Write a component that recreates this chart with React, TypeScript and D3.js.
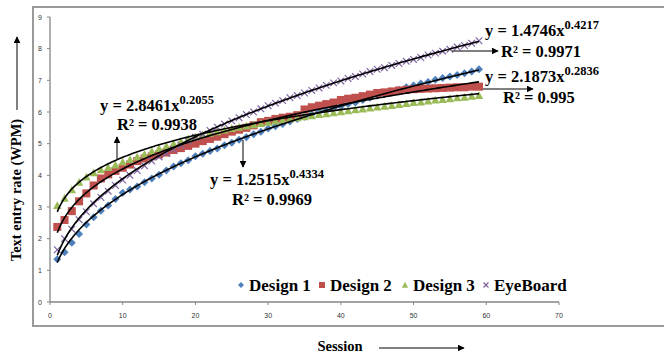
import * as d3 from 'd3';

const sessions = d3.range(1, 60);

const design1 = [
  1.35, 1.57, 1.87, 2.15, 2.45, 2.68, 2.88, 3.05, 3.25, 3.45, 3.55, 3.65, 3.78, 3.9, 4.02, 4.15, 4.28, 4.38, 4.48, 4.6,
  4.68, 4.77, 4.85, 4.95, 5.03, 5.12, 5.2, 5.3, 5.38, 5.48, 5.55, 5.62, 5.7, 5.78, 5.85, 5.93, 6.0, 6.05, 6.12, 6.18,
  6.25, 6.3, 6.38, 6.45, 6.52, 6.58, 6.64, 6.7, 6.78, 6.84, 6.9, 6.95, 7.02, 7.07, 7.12, 7.17, 7.22, 7.28, 7.35,
];
const design2 = [
  2.37, 2.59, 2.87, 3.18, 3.43, 3.68, 3.9, 4.03, 4.14, 4.24, 4.34, 4.45, 4.53, 4.6, 4.66, 4.72, 4.8, 4.86, 4.93, 5.0,
  5.08, 5.15, 5.22, 5.3, 5.38, 5.44, 5.5, 5.58, 5.68, 5.72, 5.78, 5.82, 5.85, 5.9, 6.08, 6.15, 6.2, 6.25, 6.3, 6.38,
  6.42, 6.45, 6.5, 6.55, 6.6, 6.62, 6.65, 6.68, 6.7, 6.72, 6.73, 6.74, 6.75, 6.76, 6.77, 6.78, 6.78, 6.8, 6.8,
];
const design3 = [
  3.05, 3.28, 3.55, 3.78, 3.95, 4.08, 4.18, 4.25, 4.33, 4.42, 4.5, 4.58, 4.67, 4.76, 4.85, 4.92, 5.0, 5.08, 5.15, 5.22,
  5.28, 5.33, 5.38, 5.43, 5.48, 5.52, 5.56, 5.6, 5.64, 5.68, 5.72, 5.75, 5.78, 5.82, 5.85, 5.88, 5.92, 5.95, 5.98, 6.01,
  6.04, 6.07, 6.1, 6.13, 6.16, 6.18, 6.21, 6.24, 6.27, 6.3, 6.32, 6.35, 6.38, 6.4, 6.42, 6.45, 6.47, 6.5, 6.52,
];
const eyeBoard = [
  1.65, 2.0, 2.3, 2.6, 2.85, 3.1, 3.3, 3.5, 3.68, 3.85, 4.0, 4.15, 4.3, 4.45, 4.58, 4.7, 4.82, 4.95, 5.08, 5.2,
  5.3, 5.42, 5.52, 5.62, 5.72, 5.82, 5.92, 6.0, 6.1, 6.2, 6.28, 6.36, 6.45, 6.52, 6.6, 6.68, 6.76, 6.84, 6.92, 6.98,
  7.06, 7.12, 7.2, 7.28, 7.35, 7.4, 7.47, 7.53, 7.6, 7.66, 7.72, 7.8, 7.86, 7.92, 7.98, 8.05, 8.1, 8.17, 8.25,
];

const seriesNames = ['Design 1', 'Design 2', 'Design 3', 'EyeBoard'];
const seriesColors = ['#4F81BD', '#C0504D', '#9BBB59', '#8064A2'];

// power trendlines y = a * x^b as printed on the chart
const trendA = ['1.2515', '2.1873', '2.8461', '1.4746'];
const trendB = ['0.4334', '0.2836', '0.2055', '0.4217'];
const trendR2 = ['0.9969', '0.995', '0.9938', '0.9971'];

const xTicks = [0, 10, 20, 30, 40, 50, 60, 70];
const yTicks = [0, 1, 2, 3, 4, 5, 6, 7, 8, 9];

const serif = '"Liberation Serif", "Times New Roman", serif';

const Marker = ({ kind, cx, cy, color, s = 1 }) => {
  if (kind === 0) {
    const r = 4 * s;
    return <path d={`M${cx},${cy - r}L${cx + r},${cy}L${cx},${cy + r}L${cx - r},${cy}Z`} fill={color} />;
  }
  if (kind === 1) {
    const h = 4 * s;
    return <rect x={cx - h} y={cy - h} width={h * 2} height={h * 2} fill={color} />;
  }
  if (kind === 2) {
    const h = 4.2 * s;
    return <path d={`M${cx},${cy - h}L${cx + h},${cy + h * 0.85}L${cx - h},${cy + h * 0.85}Z`} fill={color} />;
  }
  const r = 3.3 * s;
  return (
    <g stroke={color} strokeWidth={1.2}>
      <line x1={cx - r} y1={cy - r} x2={cx + r} y2={cy + r} />
      <line x1={cx - r} y1={cy + r} x2={cx + r} y2={cy - r} />
    </g>
  );
};

const Equation = ({ i, x, y, rx, ry }) => (
  <g fontFamily={serif} fontWeight="bold" fill="#000">
    <text x={x} y={y} fontSize={16.5}>
      {`y = ${trendA[i]}x`}
      <tspan fontSize={12.5} dy={-7}>{trendB[i]}</tspan>
    </text>
    <text x={rx} y={ry} fontSize={16.5}>{`R² = ${trendR2[i]}`}</text>
  </g>
);

const App = () => {
  const W = 664;
  const H = 356;
  const x = d3.scaleLinear().domain([0, 70]).range([50, 559]);
  const y = d3.scaleLinear().domain([0, 9]).range([302, 17]);

  const data = [design1, design2, design3, eyeBoard];

  const trendLine = (i) => {
    const a = +trendA[i];
    const b = +trendB[i];
    return d3
      .line()
      .x((d) => x(d))
      .y((d) => y(a * Math.pow(d, b)))(d3.range(1, 59.01, 0.25));
  };

  return (
    <svg width={W} height={H} style={{ position: 'absolute', left: 0, top: 0, background: '#fff' }}>
      <defs>
        <marker id="ah" viewBox="0 0 10 10" refX="9" refY="5" markerWidth="7" markerHeight="7" orient="auto">
          <path d="M0,0L10,5L0,10Z" fill="#000" />
        </marker>
      </defs>

      <rect x={33} y={7} width={700} height={319} fill="none" stroke="#9a9a9a" strokeWidth={2} />

      {/* axes */}
      <line x1={x(0)} x2={x(0)} y1={y(0)} y2={y(9)} stroke="#868686" strokeWidth={1.3} />
      <line x1={x(0)} x2={x(70)} y1={y(0)} y2={y(0)} stroke="#868686" strokeWidth={1.3} />
      {yTicks.map((t) => (
        <g key={'y' + t}>
          <line x1={x(0) - 3} x2={x(0)} y1={y(t)} y2={y(t)} stroke="#868686" />
          <text x={40} y={y(t) + 2.5} fontSize={7} textAnchor="middle" fontFamily="Liberation Sans, Arial" fill="#333">
            {t}
          </text>
        </g>
      ))}
      {xTicks.map((t) => (
        <g key={'x' + t}>
          <line x1={x(t)} x2={x(t)} y1={y(0)} y2={y(0) + 3} stroke="#868686" />
          <text x={x(t)} y={318} fontSize={7} textAnchor="middle" fontFamily="Liberation Sans, Arial" fill="#333">
            {t}
          </text>
        </g>
      ))}

      {/* data points */}
      {data.map((vals, i) => (
        <g key={seriesNames[i]}>
          {vals.map((v, j) => (
            <Marker key={j} kind={i} cx={x(sessions[j])} cy={y(v)} color={seriesColors[i]} />
          ))}
        </g>
      ))}

      {/* trendlines */}
      {data.map((_, i) => (
        <path key={'t' + i} d={trendLine(i)} fill="none" stroke="#000" strokeWidth={1.6} />
      ))}

      {/* equations */}
      <Equation i={2} x={100} y={111} rx={117} ry={130} />
      <Equation i={0} x={210} y={185} rx={232} ry={205} />
      <Equation i={3} x={485} y={36} rx={501} ry={57} />
      <Equation i={1} x={485} y={82} rx={503} ry={103} />

      <g stroke="#000" strokeWidth={1}>
        <line x1={117} y1={159} x2={117} y2={137} markerEnd="url(#ah)" />
        <line x1={243} y1={140} x2={243} y2={167} markerEnd="url(#ah)" />
        <line x1={452} y1={51} x2={498} y2={51} markerEnd="url(#ah)" />
        <line x1={483} y1={89} x2={533} y2={89} markerEnd="url(#ah)" />
        <line x1={17} y1={110} x2={17} y2={37} markerEnd="url(#ah)" />
        <line x1={379} y1={348} x2={464} y2={348} markerEnd="url(#ah)" />
      </g>

      {/* legend */}
      {[241, 322, 405, 486].map((lx, i) => (
        <g key={'lg' + i}>
          <Marker kind={i} cx={lx} cy={285} color={seriesColors[i]} s={0.75} />
          <text x={lx + 8} y={291} fontFamily={serif} fontWeight="bold" fontSize={17}>
            {seriesNames[i]}
          </text>
        </g>
      ))}

      {/* axis titles */}
      <text
        transform="translate(21,190) rotate(-90)"
        textAnchor="middle"
        fontFamily={serif}
        fontWeight="bold"
        fontSize={14.5}
      >
        Text entry rate (WPM)
      </text>
      <text x={340} y={351} textAnchor="middle" fontFamily={serif} fontWeight="bold" fontSize={14.5}>
        Session
      </text>
    </svg>
  );
};

export default App;
